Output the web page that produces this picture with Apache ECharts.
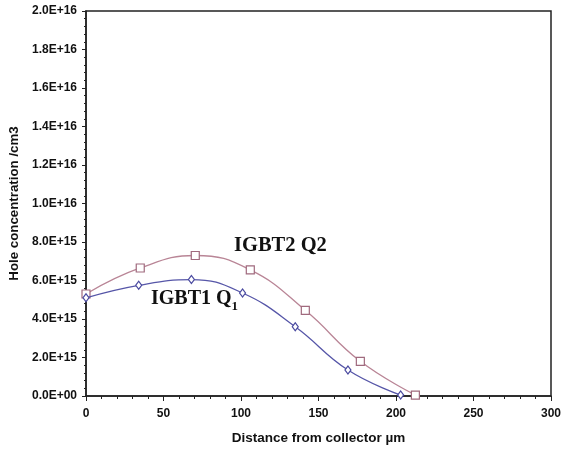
<!DOCTYPE html>
<html>
<head>
<meta charset="utf-8">
<script src="https://cdn.jsdelivr.net/npm/echarts@6/dist/echarts.min.js"></script>
<style>
  html, body { margin: 0; padding: 0; background: #fff; }
  #chart { width: 576px; height: 450px; }
</style>
</head>
<body>
<div id="chart"></div>
<script>
// Hole concentration profiles along the drift region
const distanceQ1 = [0, 34, 68, 101, 135, 169, 203];
const holesQ1 = [5.1e15, 5.75e15, 6.05e15, 5.35e15, 3.6e15, 1.35e15, 0.05e15];
const distanceQ2 = [0, 35, 70.5, 106, 141.5, 177, 212.5];
const holesQ2 = [5.3e15, 6.65e15, 7.3e15, 6.55e15, 4.45e15, 1.8e15, 0.05e15];
const yTickLabels = ['0.0E+00', '2.0E+15', '4.0E+15', '6.0E+15', '8.0E+15', '1.0E+16',
                     '1.2E+16', '1.4E+16', '1.6E+16', '1.8E+16', '2.0E+16'];
const xTickLabels = ['0', '50', '100', '150', '200', '250', '300'];

const chart = echarts.init(document.getElementById('chart'));
const axisFont = { fontFamily: 'Liberation Sans, Arial, sans-serif', fontWeight: 'bold', fontSize: 12, color: '#111' };

chart.setOption({
  animation: false,
  grid: { left: 86, right: 25, top: 11, bottom: 53, show: true, borderColor: '#222', borderWidth: 1.5, backgroundColor: 'transparent' },
  xAxis: {
    type: 'value', min: 0, max: 300, interval: 50,
    name: 'Distance from collector µm', nameLocation: 'middle', nameGap: 35,
    nameTextStyle: Object.assign({}, axisFont, { fontSize: 13.5 }),
    axisLine: { show: true, lineStyle: { color: '#222', width: 1.5 } },
    axisTick: { show: true, inside: false, length: 5, lineStyle: { color: '#222' } },
    minorTick: { show: true, splitNumber: 5, length: 3, lineStyle: { color: '#222' } },
    splitLine: { show: false },
    axisLabel: Object.assign({}, axisFont, { margin: 12, formatter: (v, i) => xTickLabels[i] })
  },
  yAxis: {
    type: 'value', min: 0, max: 2e16, interval: 2e15,
    name: 'Hole concentration /cm3', nameLocation: 'middle', nameGap: 57,
    nameTextStyle: Object.assign({}, axisFont, { fontSize: 13.3 }),
    axisLine: { show: true, lineStyle: { color: '#222', width: 1.5 } },
    axisTick: { show: true, inside: false, length: 4, lineStyle: { color: '#222' } },
    minorTick: { show: true, splitNumber: 5, length: 2, lineStyle: { color: '#222' } },
    splitLine: { show: false },
    axisLabel: Object.assign({}, axisFont, { margin: 9, formatter: (v, i) => yTickLabels[i] })
  },
  series: [
    {
      name: 'IGBT2 Q2', type: 'line', smooth: 0.45,
      data: distanceQ2.map((x, i) => [x, holesQ2[i]]),
      symbol: 'rect', symbolSize: 8, showAllSymbol: true,
      lineStyle: { color: '#b98596', width: 1.3 },
      itemStyle: { color: '#fff', borderColor: '#a06a7e', borderWidth: 1.2 },
      z: 2
    },
    {
      name: 'IGBT1 Q1', type: 'line', smooth: 0.45,
      data: distanceQ1.map((x, i) => [x, holesQ1[i]]),
      symbol: 'diamond', symbolSize: [6, 8], showAllSymbol: true,
      lineStyle: { color: '#5656a8', width: 1.3 },
      itemStyle: { color: '#fff', borderColor: '#4a4aa0', borderWidth: 1.2 },
      z: 3
    }
  ],
  graphic: [
    {
      type: 'text', left: 234, top: 235,
      style: { text: 'IGBT2 Q2', font: 'bold 20.5px "Liberation Serif", "Times New Roman", serif', fill: '#111' }
    },
    {
      type: 'text', left: 151, top: 289,
      style: {
        text: '{a|IGBT1 Q}{s|1}',
        rich: {
          a: { font: 'bold 20px "Liberation Serif", "Times New Roman", serif', fill: '#111', verticalAlign: 'bottom' },
          s: { font: 'bold 13px "Liberation Serif", "Times New Roman", serif', fill: '#111', verticalAlign: 'bottom', padding: [0, 0, -4, 0] }
        }
      }
    }
  ]
});
</script>
</body>
</html>
